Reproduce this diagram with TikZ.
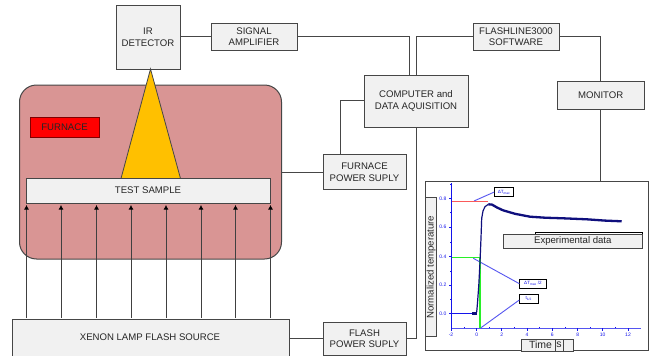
\documentclass[tikz,border=0pt]{standalone}
\usepackage{fontspec}
\setmainfont{Liberation Sans}
\usetikzlibrary{arrows.meta}
\definecolor{boxfill}{RGB}{241,241,241}
\definecolor{furn}{RGB}{217,149,148}
\definecolor{cone}{RGB}{255,192,0}
\definecolor{edge}{RGB}{70,70,70}
\definecolor{plotblue}{RGB}{20,20,235}
\definecolor{leader}{RGB}{85,85,240}
\definecolor{curve}{RGB}{15,15,125}
\definecolor{maxline}{RGB}{250,90,90}
\definecolor{halfline}{RGB}{40,240,40}
\tikzset{
  x=1pt,y=-1pt,
  blk/.style={draw=edge,line width=1pt,fill=boxfill,inner sep=0pt,outer sep=0pt,align=center,text=black!85,font=\fontsize{9.6}{11.4}\selectfont},
  wire/.style={draw=edge,line width=1pt},
  ray/.style={draw=black!75,line width=0.8pt,-{Latex[length=4.5pt,width=5pt,color=black]}},
  callout/.style={draw=black,line width=0.8pt,fill=white,inner sep=0pt,outer sep=0pt,text=plotblue,font=\fontsize{4.6}{5}\selectfont},
  pl/.style={draw=plotblue,line width=0.8pt},
  lead/.style={draw=leader,line width=0.9pt},
  ticklab/.style={text=plotblue,font=\fontsize{5}{5}\selectfont,inner sep=0pt},
}
\begin{document}
\begin{tikzpicture}
\useasboundingbox (0,0) rectangle (651,356);
\node[blk,rounded corners=17pt,fill=furn,minimum width=262pt,minimum height=174pt,anchor=north west] (furnace) at (19.5,85) {};
\node[blk,minimum width=64pt,minimum height=64.5pt,anchor=north west] (ir) at (116,5) {IR\\DETECTOR};
\node[blk,minimum width=86pt,minimum height=27pt,anchor=north west] (amp) at (211,23) {SIGNAL\\AMPLIFIER};
\node[blk,fill=red,draw=red!50!black,minimum width=69pt,minimum height=20pt,anchor=north west] (flabel) at (30,117) {FURNACE};
\node[blk,minimum width=243.5pt,minimum height=24.5pt,anchor=north west] (sample) at (26.5,178.5) {};
\node[font=\fontsize{9.6}{11.4}\selectfont,text=black!85,inner sep=0pt] (sampletext) at (148,190) {TEST SAMPLE};
\coordinate (apex) at (150.5,69);
\coordinate (bl) at (121,178.5);
\coordinate (br) at (180.5,178.5);
\draw[fill=cone,draw=edge,line width=0.8pt] (apex) -- (bl) -- (br) -- cycle;
\node[blk,minimum width=276.5pt,minimum height=37.5pt,anchor=north west] (xenon) at (12.5,319.5) {};
\node[font=\fontsize{9.6}{11.4}\selectfont,text=black!85,inner sep=0pt] (xenontext) at (150,337.5) {XENON LAMP FLASH SOURCE};
\foreach \i/\px in {1/26.5,2/61,3/96.5,4/131,5/166,6/201,7/235.5,8/270.5}{
  \coordinate (rs\i) at (\px,318);
  \coordinate (re\i) at (\px,205);
  \draw[ray] (rs\i) -- (re\i);
}
\node[blk,minimum width=83pt,minimum height=33pt,anchor=north west] (flash) at (323,322) {FLASH\\POWER SUPLY};
\node[blk,minimum width=83pt,minimum height=35pt,anchor=north west] (fpow) at (323,154.5) {FURNACE\\POWER SUPLY};
\node[blk,minimum width=104pt,minimum height=52pt,anchor=north west] (comp) at (364,75) {COMPUTER and\\DATA AQUISITION};
\node[blk,minimum width=86pt,minimum height=27pt,anchor=north west] (soft) at (473,23) {FLASHLINE3000\\SOFTWARE};
\node[blk,minimum width=86.5pt,minimum height=27.5pt,anchor=north west] (mon) at (557.5,81.5) {MONITOR};
\node[draw=edge,line width=1pt,fill=white,minimum width=223pt,minimum height=169pt,anchor=north west,inner sep=0pt,outer sep=0pt] (chart) at (425,181) {};
% wires
\draw[wire] (ir.east |- 0,36.5) -- (amp.west |- 0,36.5);
\draw[wire] (amp.east |- 0,36.5) -- (409,36.5) -- (409,75);
\draw[wire] (soft.west |- 0,36.5) -- (416,36.5) -- (416,75);
\draw[wire] (soft.east |- 0,36.5) -- (600.5,36.5) -- (mon.north -| 600.5,0);
\draw[wire] (mon.south -| 600.5,0) -- (600.5,181);
\draw[wire] (comp.west |- 0,100.5) -- (340,100.5) -- (fpow.north -| 340,0);
\draw[wire] (furnace.east |- 0,172) -- (fpow.west |- 0,172);
\draw[wire] (xenon.east |- 0,338) -- (flash.west |- 0,338);
\draw[wire] (flash.east |- 0,338) -- (416,338) -- (comp.south -| 416,0);
% plot axes
\draw[pl] (451,183) -- (451,328.3);
\draw[lead,line width=1pt] (451,328.3) -- (640.7,328.3);
\foreach \v/\py in {0.8/198.3,0.6/227,0.4/256.7,0.2/285,0.0/313.3}{
  \draw[pl,line width=0.6pt] (451,\py) -- (449,\py);
  \node[ticklab,anchor=east] (yt\v) at (446.5,\py) {\v};
}
\foreach \py in {184,212.7,241.8,270.8,299.2}{
  \draw[pl,line width=0.5pt] (451,\py) -- (449.5,\py);
}
\foreach \v/\px in {-2/451,0/476.7,2/501.7,4/527,6/552.3,8/577.7,10/602.7,12/628}{
  \draw[pl,line width=0.6pt] (\px,328.3) -- (\px,331);
  \node[ticklab,anchor=north] (xt\v) at (\px,332.5) {\v};
}
\foreach \px in {464,489,514.3,539.7,565,590.2,615.3}{
  \draw[pl,line width=0.5pt] (\px,328.3) -- (\px,326.8);
}
\draw[pl] (451,313.3) -- (476,313.3);
% callouts and leaders
\node[callout,minimum width=19.4pt,minimum height=8.6pt,anchor=north west] (c1) at (494.3,187.7) {ΔT\textsubscript{max}};
\node[callout,minimum width=27.4pt,minimum height=9.3pt,anchor=north west] (c2) at (519.3,279) {ΔT\textsubscript{max} /2};
\node[callout,minimum width=19pt,minimum height=8.7pt,anchor=north west] (c3) at (519.3,294.3) {t\textsubscript{1/2}};
\coordinate (t1) at (474,201);
\coordinate (t2) at (473.3,258.3);
\coordinate (t3) at (481,327.7);
\draw[lead] (c1.west) -- (t1);
\draw[lead] (c2.west) -- (t2);
\draw[lead] (c3.south west) ++(0,-3) -- (t3);
% levels
\draw[draw=maxline,line width=1.2pt] (451.5,201.5) -- (488.3,201.5);
\draw[draw=halfline,line width=1.2pt] (451.5,257.5) -- (480,257.5) -- (480,328);
% curve
\draw[curve,line width=3pt] (472,313.3) -- (477,313.3);
\draw[curve,line width=1.2pt,line join=round] (476.7,312) -- (477.5,303) -- (478.8,285) -- (480,262) -- (481,238) -- (481.7,218.3) -- (483,211) -- (485,206.7) -- (488.3,204.3);
\draw[curve,line width=2.3pt,line join=round] (488.3,204.3) -- (492,204.6) -- (497,207.5) -- (503,210.3) -- (515,213.8) -- (530,216.7) -- (545,217.7) -- (563,218.3) -- (586.7,219.3) -- (605,220.6) -- (621.7,221.3);
% experimental data
\node[draw=black,line width=0.8pt,minimum width=106.7pt,minimum height=4pt,anchor=north west,inner sep=0pt] (expback) at (535,232.3) {};
\node[blk,minimum width=139pt,minimum height=14pt,anchor=north west] (exp) at (503.3,234.3) {Experimental data};
% axis labels
\node[blk,rotate=90,minimum width=139.3pt,minimum height=11pt] (ylab) at (431.2,267.3) {Normalized temperature};
\node[blk,minimum width=52pt,minimum height=12pt,anchor=north west] (xlab) at (521,339) {};
\node[inner sep=0pt,font=\fontsize{10.5}{12}\selectfont,text=black!85] (xtime) at (540.5,345) {Time};
\node[draw=edge,line width=0.8pt,minimum width=8pt,minimum height=12pt,inner sep=0pt,font=\fontsize{10.5}{12}\selectfont,text=black!85] (xunit) at (559,345) {s};
\end{tikzpicture}
\end{document}
